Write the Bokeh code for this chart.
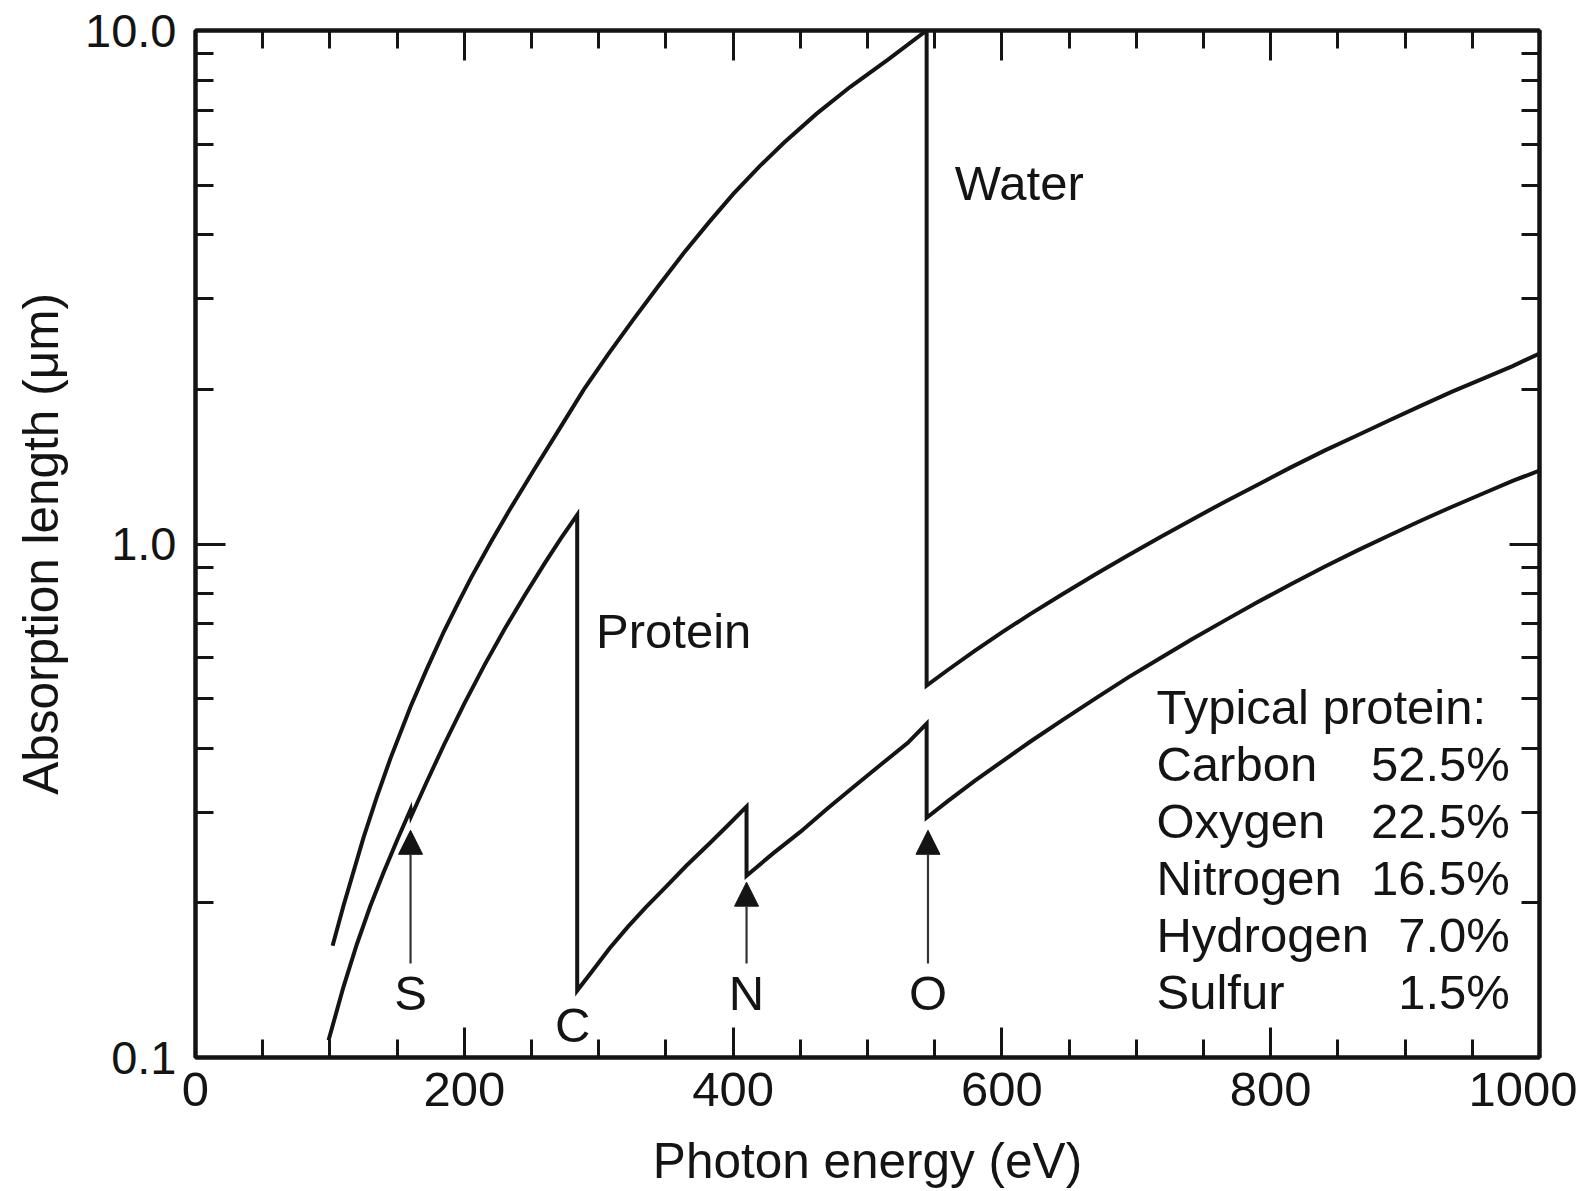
from bokeh.plotting import figure
from bokeh.models import (Range1d, FixedTicker, CustomJSTickFormatter, LinearAxis,
                          LogAxis, Label, Arrow, NormalHead)
from bokeh.embed import file_html
from bokeh.resources import INLINE

# ---------------- data ----------------
x_major_ticks = [0, 200, 400, 600, 800, 1000]
x_minor_ticks = [50, 100, 150, 250, 300, 350, 450, 500, 550, 650, 700, 750, 850, 900, 950]
y_major_ticks = [0.1, 1.0, 10.0]
y_minor_ticks = [0.2, 0.3, 0.4, 0.5, 0.6, 0.7, 0.8, 0.9, 2, 3, 4, 5, 6, 7, 8, 9]

# photon energy (eV) / absorption length (um) for water
water_energy = [102, 110, 125, 135, 145, 160, 172, 185, 195, 205, 220, 235, 252, 270,
                289, 307, 326, 345, 363, 382, 400, 420, 438, 462, 487, 515, 544,
                544, 560, 580, 600, 621, 645, 670, 694, 718, 742, 766, 790, 815, 840,
                865, 888, 912, 935, 958, 980, 1000]
water_length = [0.165, 0.197, 0.268, 0.322, 0.382, 0.482, 0.570, 0.677, 0.764, 0.859,
                1.011, 1.181, 1.397, 1.663, 2.00, 2.341, 2.741, 3.194, 3.678, 4.230,
                4.800, 5.45, 6.05, 6.88, 7.76, 8.77, 10.0,
                0.53, 0.569, 0.620, 0.673, 0.730, 0.798, 0.874, 0.951, 1.032, 1.118,
                1.209, 1.303, 1.41, 1.52, 1.63, 1.74, 1.86, 1.98, 2.10, 2.22, 2.35]

# photon energy (eV) / absorption length (um) for a typical protein
protein_energy = [99, 110, 120, 130, 140, 150, 160, 160.5, 172, 185, 200, 215, 230, 245,
                  260, 272, 284,
                  284, 295, 308, 322, 335, 350, 365, 383, 396, 410,
                  410, 430, 450, 470, 490, 510, 530, 544,
                  544, 560, 580, 600, 621, 645, 670, 694, 718, 742, 766, 790, 815, 840,
                  865, 888, 912, 935, 958, 980, 1000]
protein_length = [0.108, 0.137, 0.166, 0.197, 0.2295, 0.265, 0.304, 0.295, 0.344, 0.407,
                  0.489, 0.581, 0.683, 0.795, 0.919, 1.027, 1.14,
                  0.135, 0.147, 0.163, 0.180, 0.196, 0.215, 0.236, 0.262, 0.283, 0.308,
                  0.226, 0.250, 0.275, 0.305, 0.337, 0.372, 0.410, 0.447,
                  0.293, 0.316, 0.346, 0.377, 0.412, 0.454, 0.501, 0.550, 0.600, 0.654,
                  0.710, 0.770, 0.835, 0.903, 0.973, 1.039, 1.111, 1.182, 1.254, 1.327,
                  1.39]

# absorption-edge markers
edge_labels = ["S", "N", "O"]
edge_energy = [160, 410, 545]
edge_arrow_tip = [0.277, 0.2195, 0.277]
carbon_label_energy = 280.7

# composition table
table_title = "Typical protein:"
element_names = ["Carbon", "Oxygen", "Nitrogen", "Hydrogen", "Sulfur"]
element_percent = ["52.5%", "22.5%", "16.5%", "7.0%", "1.5%"]

# ---------------- styling ----------------
FONT = "Liberation Sans"
INK = "#141414"
XTICK_FS = "49px"
YTICK_FS = "47px"
LABEL_FS = "49.5px"
NOTE_FS = "49px"
LIFT = 1.072   # baseline correction factor for annotation placement on the log axis

p = figure(frame_width=1344, frame_height=1027,
           x_range=Range1d(0, 1000), y_range=Range1d(0.1, 10),
           y_axis_type="log", output_backend="svg", toolbar_location=None,
           min_border_left=195, min_border_right=38, min_border_top=30,
           min_border_bottom=100,
           background_fill_color="white", border_fill_color="white")

p.grid.visible = False
p.outline_line_color = INK
p.outline_line_width = 4


def style_axis(ax, size=None):
    ax.axis_line_color = INK
    ax.axis_line_width = 4
    ax.major_tick_in = 30
    ax.major_tick_out = 0
    ax.minor_tick_in = 18
    ax.minor_tick_out = 0
    ax.major_tick_line_color = INK
    ax.minor_tick_line_color = INK
    ax.major_tick_line_width = 3
    ax.minor_tick_line_width = 3
    ax.major_label_text_font = FONT
    ax.major_label_text_color = INK
    ax.axis_label_text_font = FONT
    ax.axis_label_text_font_style = "normal"
    ax.axis_label_text_color = INK
    ax.axis_label_text_font_size = LABEL_FS
    if size is not None:
        ax.major_label_text_font_size = size
    else:
        ax.formatter = CustomJSTickFormatter(code="return '';")
        ax.major_label_text_font_size = "1px"
        ax.major_label_standoff = 0


xa = p.xaxis[0]
ya = p.yaxis[0]
xa.ticker = FixedTicker(ticks=x_major_ticks, minor_ticks=x_minor_ticks)
ya.ticker = FixedTicker(ticks=y_major_ticks, minor_ticks=y_minor_ticks)
ya.formatter = CustomJSTickFormatter(code="return tick.toFixed(1);")
style_axis(xa, XTICK_FS)
style_axis(ya, YTICK_FS)
xa.axis_label = "Photon energy (eV)"
ya.axis_label = "Absorption length (μm)"
xa.major_label_standoff = 15
xa.axis_label_standoff = 24
ya.major_label_standoff = 19
ya.axis_label_standoff = 14

top_ax = LinearAxis(ticker=FixedTicker(ticks=x_major_ticks, minor_ticks=x_minor_ticks))
style_axis(top_ax)
p.add_layout(top_ax, "above")
right_ax = LogAxis(ticker=FixedTicker(ticks=y_major_ticks, minor_ticks=y_minor_ticks))
style_axis(right_ax)
p.add_layout(right_ax, "right")

# ---------------- curves ----------------
p.line(water_energy, water_length, line_color=INK, line_width=4, line_join="miter")
p.line(protein_energy, protein_length, line_color=INK, line_width=4, line_join="miter")


# ---------------- edge arrows and letters ----------------
def note(x, y, text, align="left"):
    p.add_layout(Label(x=x, y=y * LIFT, text=text, text_align=align,
                       text_baseline="alphabetic", text_font=FONT,
                       text_font_size=NOTE_FS, text_color=INK))


for lab, e, tip in zip(edge_labels, edge_energy, edge_arrow_tip):
    p.add_layout(Arrow(end=NormalHead(size=24, fill_color=INK, line_color=INK, line_width=1),
                       x_start=e, y_start=0.1524, x_end=e, y_end=tip,
                       line_color="#333333", line_width=2.2))
    note(e, 0.1246, lab, "center")
note(carbon_label_energy, 0.1079, "C", "center")

# curve names
note(565, 4.71, "Water")
note(298, 0.6316, "Protein")

# composition table
header_y = 0.4498
row_ratio = 0.7745
note(715, header_y, table_title)
for i, (name, pct) in enumerate(zip(element_names, element_percent)):
    yy = header_y * row_ratio ** (i + 1)
    note(715, yy, name)
    note(978, yy, pct, "right")

open("out.html", "w").write(file_html(p, INLINE))
